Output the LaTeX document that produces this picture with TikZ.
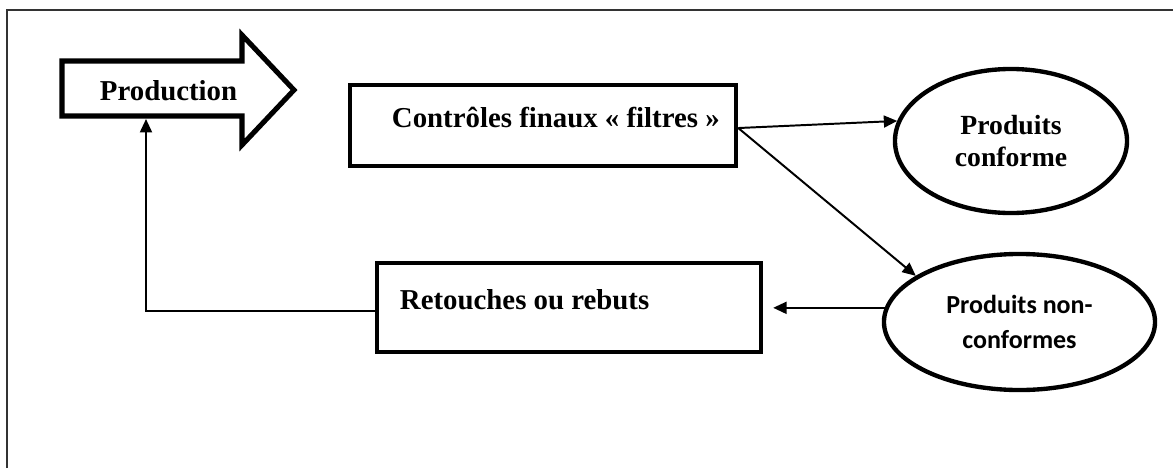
\documentclass[tikz,border=0pt]{standalone}
\usepackage{fontspec}
\setmainfont{Liberation Serif}
\newfontfamily\calib{Carlito}
\usetikzlibrary{arrows.meta, shapes.geometric, calc}
\tikzset{
    box/.style={draw, line width=3.3pt, inner sep=0pt},
    oval/.style={ellipse, draw, line width=3.1pt, inner sep=0pt, align=center},
    conn/.style={line width=1.4pt, -{Triangle[length=9.5pt, width=8.5pt]}},
    bigtext/.style={font=\fontsize{20.5}{24}\bfseries},
}

\begin{document}
\begin{tikzpicture}[x=0.025cm, y=-0.025cm]
    \useasboundingbox (0, 0) rectangle (1173, 468);
    \draw[line width=1.4pt, black!80] (7, 468) -- (7, 10) -- (1173, 10);
    \draw[line width=3.6pt, line join=miter] (62, 61) -- (242, 61) -- (242, 35)
        -- (294, 90) -- (242, 145) -- (242, 116) -- (62, 116) -- cycle;
    \node[bigtext, anchor=base west] (prod) at (95, 100) {Production};
    \coordinate (prodfoot) at (146, 119);
    \node[box, minimum width=9.645cm, minimum height=2.02cm] (ctrl)
        at (543, 125.5) {};
    \node[bigtext, anchor=base west] (ctrltxt) at (387, 127)
        {Contrôles finaux « filtres »};
    \node[box, minimum width=9.6cm, minimum height=2.22cm] (ret)
        at (569, 307.5) {};
    \node[bigtext, anchor=base west] (rettxt) at (395, 309)
        {Retouches ou rebuts};
    \node[oval, minimum width=5.8cm, minimum height=3.6cm,
        font=\fontsize{19.7}{22.7}\bfseries] (conf) at (1011, 141)
        {Produits\\conforme};
    \node[oval, minimum width=6.775cm, minimum height=3.4cm,
        font=\calib\fontsize{18.5}{24.5}\bfseries] (non) at (1019.5, 322)
        {Produits non-\\conformes};
    \draw[conn] ([yshift=-1.8pt]ctrl.east) -- (conf.170);
    \draw[conn] ([yshift=-1.8pt]ctrl.east) -- (non.156);
    \draw[conn, shorten >=7pt] (non.174) -- (non.174 -| ret.east);
    \draw[conn] ([yshift=-2.5pt]ret.west) -| (prodfoot);
\end{tikzpicture}
\end{document}
